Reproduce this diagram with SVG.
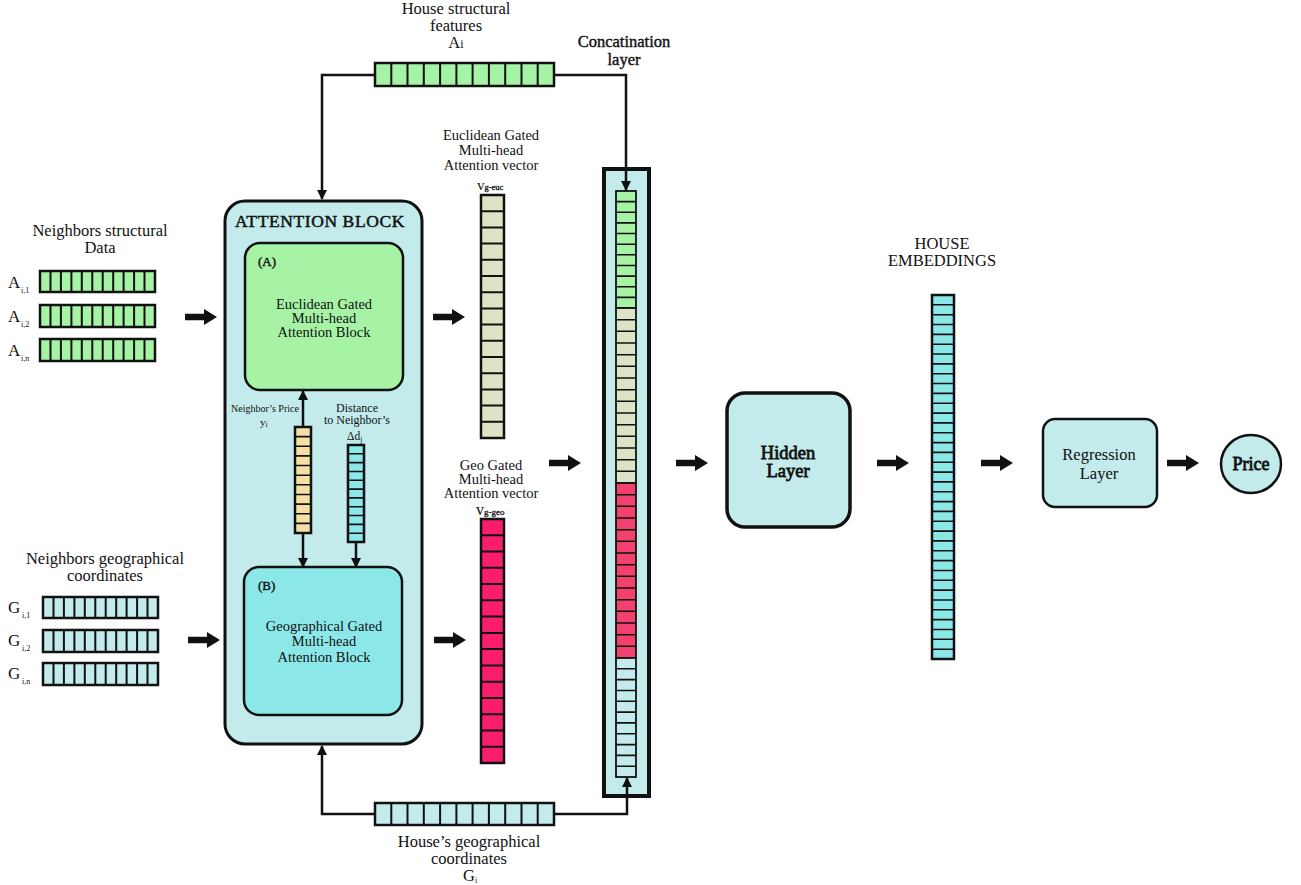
<svg xmlns="http://www.w3.org/2000/svg" xmlns:xlink="http://www.w3.org/1999/xlink" width="1301" height="885" viewBox="0 0 1301 885">
<style>
text{font-family:"Liberation Serif","DejaVu Serif",serif;fill:#111;}
.lbl{font-size:16.5px;text-anchor:middle;}
.mid{font-size:14.5px;text-anchor:middle;}
.box{font-size:14.5px;text-anchor:middle;}
.tiny{font-size:10px;text-anchor:middle;}
.cellbox{stroke:#111;stroke-width:2.5;}
.div{stroke:#111;stroke-width:2;fill:none;}
.divt{stroke:#111;stroke-width:1.6;fill:none;}
.conn{stroke:#111;stroke-width:2.5;fill:none;}
.green{fill:#a6f3a6;}
.beige{fill:#dde4c5;}
.red{fill:#f91d6d;}
.redc{fill:#f2406f;}
.lcyan{fill:#c3ebeb;}
.tcyan{fill:#8ce8e8;}
.yellow{fill:#f6dfa3;}
</style>
<defs>
<marker id="ah" markerWidth="10" markerHeight="10" refX="9" refY="5" orient="auto" markerUnits="userSpaceOnUse">
<path d="M0,0 L10,5 L0,10 Z" fill="#111"/>
</marker>
<path id="fat" d="M0,-3.2 H19 V-8 L32,0 L19,8 V3.2 H0 Z" fill="#111"/>
</defs>

<g id="house-structural-features">
<text class="lbl" x="456" y="14">House structural</text>
<text class="lbl" x="456" y="31">features</text>
<text class="lbl" x="456" y="48">A<tspan font-size="12">i</tspan></text>
<rect class="cellbox green" x="375" y="63" width="179" height="23"/>
<path class="div" d="M391.3,63V86M407.5,63V86M423.8,63V86M440.1,63V86M456.4,63V86M472.6,63V86M488.9,63V86M505.2,63V86M521.5,63V86M537.7,63V86"/>
</g>

<g id="neighbors-structural">
<text class="lbl" x="100" y="236">Neighbors structural</text>
<text class="lbl" x="100" y="253">Data</text>
<text x="8" y="288" font-size="17">A</text><text x="21" y="293" font-size="8">i,1</text>
<text x="8" y="322" font-size="17">A</text><text x="21" y="327" font-size="8">i,2</text>
<text x="8" y="356" font-size="17">A</text><text x="21" y="361" font-size="8">i,n</text>
<rect class="cellbox green" x="40" y="271" width="115" height="21"/>
<rect class="cellbox green" x="40" y="305" width="115" height="22"/>
<rect class="cellbox green" x="40" y="339" width="115" height="22"/>
<path class="div" d="M50.5,271V292M60.9,271V292M71.4,271V292M81.8,271V292M92.3,271V292M102.7,271V292M113.2,271V292M123.6,271V292M134.1,271V292M144.5,271V292
M50.5,305V327M60.9,305V327M71.4,305V327M81.8,305V327M92.3,305V327M102.7,305V327M113.2,305V327M123.6,305V327M134.1,305V327M144.5,305V327
M50.5,339V361M60.9,339V361M71.4,339V361M81.8,339V361M92.3,339V361M102.7,339V361M113.2,339V361M123.6,339V361M134.1,339V361M144.5,339V361"/>
</g>

<g id="neighbors-geographical">
<text class="lbl" x="105" y="564">Neighbors geographical</text>
<text class="lbl" x="105" y="581">coordinates</text>
<text x="8" y="613" font-size="17">G</text><text x="22" y="618" font-size="8">i,1</text>
<text x="8" y="646" font-size="17">G</text><text x="22" y="651" font-size="8">i,2</text>
<text x="8" y="679" font-size="17">G</text><text x="22" y="684" font-size="8">i,n</text>
<rect class="cellbox lcyan" x="43" y="597" width="115" height="21"/>
<rect class="cellbox lcyan" x="43" y="630" width="115" height="22"/>
<rect class="cellbox lcyan" x="43" y="663" width="115" height="22"/>
<path class="div" d="M53.5,597V618M63.9,597V618M74.4,597V618M84.8,597V618M95.3,597V618M105.7,597V618M116.2,597V618M126.6,597V618M137.1,597V618M147.5,597V618
M53.5,630V652M63.9,630V652M74.4,630V652M84.8,630V652M95.3,630V652M105.7,630V652M116.2,630V652M126.6,630V652M137.1,630V652M147.5,630V652
M53.5,663V685M63.9,663V685M74.4,663V685M84.8,663V685M95.3,663V685M105.7,663V685M116.2,663V685M126.6,663V685M137.1,663V685M147.5,663V685"/>
</g>

<g id="attention-block">
<rect x="225" y="201" width="197" height="543" rx="20" fill="#c3ebeb" stroke="#111" stroke-width="3"/>
<text x="320" y="227" font-size="17.5" text-anchor="middle" stroke="#111" stroke-width="0.5" letter-spacing="0.6">ATTENTION  BLOCK</text>
</g>

<g id="block-a">
<rect x="245" y="243" width="158" height="147" rx="15" class="green" stroke="#111" stroke-width="2.5"/>
<text x="258" y="266" font-size="13" stroke="#111" stroke-width="0.4">(A)</text>
<text class="box" x="324" y="309">Euclidean Gated</text>
<text class="box" x="324" y="323">Multi-head</text>
<text class="box" x="324" y="337">Attention Block</text>
</g>

<g id="neighbors-price">
<text class="tiny" x="265" y="412">Neighbor’s Price</text>
<text x="260" y="426" font-size="11">y<tspan font-size="7.5" dy="1">i</tspan></text>
<rect class="cellbox yellow" x="295" y="427" width="16" height="106"/>
<path class="divt" d="M295,436.6H311M295,446.3H311M295,455.9H311M295,465.5H311M295,475.2H311M295,484.8H311M295,494.5H311M295,504.1H311M295,513.7H311M295,523.4H311"/>
</g>

<g id="distance">
<text x="357" y="412" font-size="12" text-anchor="middle">Distance</text>
<text x="357" y="424" font-size="12" text-anchor="middle">to Neighbor’s</text>
<text x="347" y="440" font-size="11.5">Δd<tspan font-size="7.5" dy="2">j</tspan></text>
<rect class="cellbox tcyan" x="348" y="445" width="16" height="97"/>
<path class="divt" d="M348,453.8H364M348,462.6H364M348,471.5H364M348,480.3H364M348,489.1H364M348,497.9H364M348,506.7H364M348,515.5H364M348,524.4H364M348,533.2H364"/>
</g>

<g id="block-b">
<rect x="244" y="567" width="158" height="148" rx="15" class="tcyan" stroke="#111" stroke-width="2.5"/>
<text x="258" y="590" font-size="13" stroke="#111" stroke-width="0.4">(B)</text>
<text class="box" x="324" y="631">Geographical Gated</text>
<text class="box" x="324" y="646">Multi-head</text>
<text class="box" x="324" y="662">Attention Block</text>
</g>

<g id="euclidean-vector">
<text class="mid" x="491" y="140">Euclidean Gated</text>
<text class="mid" x="491" y="155">Multi-head</text>
<text class="mid" x="491" y="170">Attention vector</text>
<text x="477" y="190" font-size="15">v<tspan font-size="8.5" stroke="#111" stroke-width="0.3">g-euc</tspan></text>
<rect class="cellbox beige" x="481" y="195" width="23" height="243"/>
<path class="div" d="M481,211.2H504M481,227.4H504M481,243.6H504M481,259.8H504M481,276H504M481,292.2H504M481,308.4H504M481,324.6H504M481,340.8H504M481,357H504M481,373.2H504M481,389.4H504M481,405.6H504M481,421.8H504"/>
</g>

<g id="geo-vector">
<text class="mid" x="491" y="470">Geo Gated</text>
<text class="mid" x="491" y="484">Multi-head</text>
<text class="mid" x="491" y="498">Attention vector</text>
<text x="476" y="515" font-size="16">v<tspan font-size="9" stroke="#111" stroke-width="0.3">g-geo</tspan></text>
<rect class="cellbox red" x="481" y="519" width="23" height="244"/>
<path class="div" d="M481,535.3H504M481,551.5H504M481,567.8H504M481,584.1H504M481,600.3H504M481,616.6H504M481,632.9H504M481,649.1H504M481,665.4H504M481,681.7H504M481,697.9H504M481,714.2H504M481,730.5H504M481,746.7H504"/>
</g>

<g id="concatenation-layer">
<text x="624" y="47" font-size="16.5" text-anchor="middle" stroke="#111" stroke-width="0.4">Concatination</text>
<text x="624" y="65" font-size="16.5" text-anchor="middle" stroke="#111" stroke-width="0.4">layer</text>
<rect x="604" y="169" width="45" height="627" fill="#c3ebeb" stroke="#111" stroke-width="4"/>
<rect class="green" x="616" y="191" width="20" height="117" stroke="#111" stroke-width="1.8"/>
<rect class="beige" x="616" y="308" width="20" height="175" stroke="#111" stroke-width="1.8"/>
<rect class="redc" x="616" y="483" width="20" height="175" stroke="#111" stroke-width="1.8"/>
<rect class="lcyan" x="616" y="658" width="20" height="119" stroke="#111" stroke-width="1.8"/>
<path class="divt" d="M616,201.6H636M616,212.3H636M616,222.9H636M616,233.5H636M616,244.2H636M616,254.8H636M616,265.5H636M616,276.1H636M616,286.8H636M616,297.4H636
M616,319.7H636M616,331.3H636M616,343H636M616,354.7H636M616,366.3H636M616,378H636M616,389.7H636M616,401.3H636M616,413H636M616,424.7H636M616,436.3H636M616,448H636M616,459.7H636M616,471.3H636
M616,494.7H636M616,506.3H636M616,518H636M616,529.7H636M616,541.3H636M616,553H636M616,564.7H636M616,576.3H636M616,588H636M616,599.7H636M616,611.3H636M616,623H636M616,634.7H636M616,646.3H636
M616,668.8H636M616,679.6H636M616,690.5H636M616,701.3H636M616,712.1H636M616,722.9H636M616,733.7H636M616,744.6H636M616,755.4H636M616,766.2H636"/>
</g>

<g id="house-geographical">
<rect class="cellbox lcyan" x="375" y="803" width="179" height="22"/>
<path class="div" d="M391.3,803V825M407.5,803V825M423.8,803V825M440.1,803V825M456.4,803V825M472.6,803V825M488.9,803V825M505.2,803V825M521.5,803V825M537.7,803V825"/>
<text class="lbl" x="469" y="847">House’s geographical</text>
<text class="lbl" x="469" y="864">coordinates</text>
<text x="463" y="881" font-size="16.5">G<tspan font-size="8" dy="2">i</tspan></text>
</g>

<g id="hidden-layer">
<rect x="727" y="393" width="123" height="134" rx="18" fill="#c3ebeb" stroke="#111" stroke-width="3.5"/>
<text x="788" y="459" font-size="18.5" text-anchor="middle" stroke="#111" stroke-width="0.8">Hidden</text>
<text x="788" y="477" font-size="18.5" text-anchor="middle" stroke="#111" stroke-width="0.8">Layer</text>
</g>

<g id="house-embeddings">
<text class="lbl" x="942" y="249" font-size="16">HOUSE</text>
<text class="lbl" x="942" y="266" font-size="16">EMBEDDINGS</text>
<rect class="tcyan" x="932" y="295" width="22" height="364" stroke="#111" stroke-width="2.5"/>
<path class="divt" d="M932,304.8H954M932,314.7H954M932,324.5H954M932,334.4H954M932,344.2H954M932,354H954M932,363.9H954M932,373.7H954M932,383.5H954M932,393.4H954M932,403.2H954M932,413.1H954M932,422.9H954M932,432.7H954M932,442.6H954M932,452.4H954M932,462.2H954M932,472.1H954M932,481.9H954M932,491.8H954M932,501.6H954M932,511.4H954M932,521.3H954M932,531.1H954M932,540.9H954M932,550.8H954M932,560.6H954M932,570.5H954M932,580.3H954M932,590.1H954M932,600H954M932,609.8H954M932,619.6H954M932,629.5H954M932,639.3H954M932,649.2H954"/>
</g>

<g id="regression-layer">
<rect x="1043" y="419" width="114" height="88" rx="12" fill="#c3ebeb" stroke="#111" stroke-width="2.5"/>
<text class="lbl" x="1099" y="460" font-size="17.5">Regression</text>
<text class="lbl" x="1099" y="479" font-size="17.5">Layer</text>
</g>

<g id="price">
<ellipse cx="1251" cy="464" rx="30" ry="29" fill="#c3ebeb" stroke="#111" stroke-width="2.5"/>
<text x="1251" y="470" font-size="18" text-anchor="middle" stroke="#111" stroke-width="0.8">Price</text>
</g>

<g id="connectors">
<path class="conn" d="M375,75 H322 V199" marker-end="url(#ah)"/>
<path class="conn" d="M554,75 H626 V190" marker-end="url(#ah)"/>
<path class="conn" d="M375,814 H322 V746" marker-end="url(#ah)"/>
<path class="conn" d="M554,814 H627 V778" marker-end="url(#ah)"/>
<path class="conn" d="M303,427 V391" marker-end="url(#ah)"/>
<path class="conn" d="M303,533 V567" marker-end="url(#ah)"/>
<path class="conn" d="M356,542 V567" marker-end="url(#ah)"/>
<use xlink:href="#fat" x="185" y="317"/>
<use xlink:href="#fat" x="188" y="640"/>
<use xlink:href="#fat" x="433" y="317"/>
<use xlink:href="#fat" x="434" y="640"/>
<use xlink:href="#fat" x="549" y="463"/>
<use xlink:href="#fat" x="676" y="463"/>
<use xlink:href="#fat" x="877" y="463"/>
<use xlink:href="#fat" x="981" y="463"/>
<use xlink:href="#fat" x="1167" y="463"/>
</g>
</svg>
